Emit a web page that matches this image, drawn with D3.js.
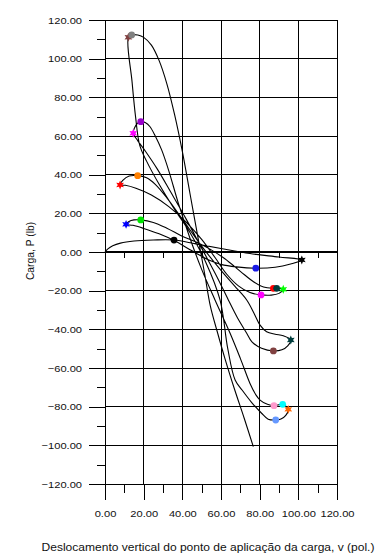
<!DOCTYPE html>
<html>
<head>
<meta charset="utf-8">
<script src="https://cdn.jsdelivr.net/npm/d3@7"></script>
<style>
  html, body { margin: 0; padding: 0; background: #ffffff; }
  svg { display: block; }
  text { font-family: Arial, "Liberation Sans", sans-serif; fill: #111; }
</style>
</head>
<body>
<svg id="chart" width="378" height="557"></svg>
<script>
// Axis ticks
const vTicks = [0, 20, 40, 60, 80, 100, 120];
const vMinorTicks = [10, 30, 50, 70, 90, 110];
const pTicks = [120, 100, 80, 60, 40, 20, 0, -20, -40, -60, -80, -100, -120];
const pMinorTicks = [110, 90, 70, 50, 30, 10, -10, -30, -50, -70, -90, -110];

// Equilibrium path: vertical displacement v (pol.) and load P (lb)
const pathV = [
  0, 1.5, 4, 8, 15, 25, 35.7, 47, 60, 75, 90, 101.8,
  96, 88, 78, 68, 60, 54, 45, 36, 28, 20, 14.5, 10.9,
  12.4, 15, 18.5, 25, 32, 40.5, 48, 54.3, 62, 70, 77, 82, 87.1, 88.8, 92.2,
  90, 86, 80.7, 75, 69, 63, 57, 50, 42, 33, 24, 16, 10.5, 7.8,
  9.2, 12.5, 16.9, 21.5, 26, 32, 40, 50, 60, 67, 73.3, 77, 80.2, 83.6, 88, 92.2, 96.1,
  94.5, 91.5, 87.1, 81, 76, 73.3, 68.5, 63.8, 58, 50, 42, 34, 27, 21, 17, 14.6,
  15.3, 16.8, 18.5, 21, 23.3, 26, 29.3, 33, 38, 44, 50, 56.9, 64.7, 70, 75, 78, 80.2, 84, 87.4, 91.9, 94.8,
  93.5, 91, 88.3, 84.4, 81, 76, 71, 67.3, 63.5, 59.5, 52, 44, 36, 28, 21.5, 18, 15.8, 14, 12.1,
  13.8, 17, 20, 24, 28, 32, 36, 40, 44, 48, 51.5, 54.5, 58, 62, 67, 72, 76.7
];
const pathP = [
  0, 1.6, 3.2, 4.6, 5.7, 6.2, 6.2, 4.2, 1.8, -0.8, -2.6, -4.1,
  -6.2, -7.9, -8.4, -7.7, -6.4, -4.3, 0.6, 5.8, 9.4, 12.2, 13.8, 14.3,
  15.8, 16.6, 16.6, 15.3, 12.3, 7.9, 4.8, 1.5, -3.5, -10, -15.5, -18.1, -18.8, -18.8, -19.3,
  -21.4, -22.3, -22.2, -21, -17.5, -11.5, -3, 6.5, 15.5, 23.5, 29.5, 33, 34.5, 34.7,
  37, 39.3, 39.5, 38.4, 35, 28, 17, 3, -9.5, -17.5, -24.8, -31.5, -37.8, -41.2, -42.5, -43.3, -45.5,
  -48.5, -50.6, -51.2, -49.8, -46.5, -42, -34, -24.8, -13, 2, 17, 31, 43, 52, 57.5, 61.4,
  64.3, 66.6, 67.4, 66.9, 64.8, 60, 52.8, 42, 25, 7, -9, -24.8, -42, -55, -68, -73.8, -76.6, -78.8, -79.5, -78.8, -81.4,
  -84.5, -86.4, -86.9, -86.5, -83.4, -78, -71.5, -66.2, -50, -24.8, -5, 10, 22, 35, 47, 55, 70, 88, 111.1,
  112.3, 112.2, 111, 107, 99, 87, 71, 52, 30, 8, -11, -28, -41, -55, -71, -86, -100.7
];

// Limit points along the path
const markerV = [35.7, 101.8, 78, 10.9, 18.5, 87.1, 88.8, 92.2, 80.7, 7.8, 16.9, 96.1, 87.1, 14.6, 18.5, 87.4, 91.9, 94.8, 88.3, 12.1, 13.8];
const markerP = [6.2, -4.1, -8.4, 14.3, 16.6, -18.8, -18.8, -19.3, -22.2, 34.7, 39.5, -45.5, -51.2, 61.4, 67.4, -79.5, -78.8, -81.4, -86.9, 111.1, 112.3];
const markerKind = ['circle', 'star', 'circle', 'star', 'circle', 'circle', 'circle', 'star', 'circle', 'star', 'circle', 'star', 'circle', 'star', 'circle', 'circle', 'circle', 'star', 'circle', 'star', 'circle'];

// Marker colours, one per limit point
const markerColor = ['#000000', '#000000', '#1a1ae6', '#0000ff', '#00e600', '#ff0000', '#003c3c', '#00ff00', '#ff00ff', '#ff0000', '#ff8000', '#003c3c', '#804040', '#ff00ff', '#9900cc', '#ff99cc', '#00ffff', '#ff6600', '#6699ff', '#804040', '#808080'];

const svg = d3.select('#chart');
const x = d3.scaleLinear().domain([0, 120]).range([105, 337]);
const y = d3.scaleLinear().domain([-120, 120]).range([484, 20]);
const stretch = 1.17;
const fmt = d3.format('.2f');

// Grid
const grid = svg.append('g').attr('stroke', '#000').attr('stroke-width', 1).attr('shape-rendering', 'crispEdges');
grid.selectAll('line.h').data(pTicks).join('line')
  .attr('x1', x(0)).attr('x2', x(120))
  .attr('y1', d => y(d)).attr('y2', d => y(d));
grid.selectAll('line.v').data(vTicks).join('line')
  .attr('y1', y(120)).attr('y2', y(-120))
  .attr('x1', d => x(d)).attr('x2', d => x(d));

// Load axis (left)
const yAxis = svg.append('g').attr('transform', `translate(${x(0)},0)`)
  .call(d3.axisLeft(y).tickValues(pTicks).tickSize(16).tickPadding(7).tickFormat(fmt));
svg.append('g').attr('transform', `translate(${x(0)},0)`)
  .call(d3.axisLeft(y).tickValues(pMinorTicks).tickSize(8).tickFormat(''))
  .call(g => g.select('.domain').remove());

// Displacement axis (bottom)
const xAxis = svg.append('g').attr('transform', `translate(0,${y(-120)})`)
  .call(d3.axisBottom(x).tickValues(vTicks).tickSize(16).tickPadding(10).tickFormat(fmt));
svg.append('g').attr('transform', `translate(0,${y(-120)})`)
  .call(d3.axisBottom(x).tickValues(vMinorTicks).tickSize(9).tickFormat(''))
  .call(g => g.select('.domain').remove());

// Zero-load line with its own minor ticks
svg.append('g').attr('transform', `translate(0,${y(0)})`)
  .call(d3.axisBottom(x).tickValues(vMinorTicks).tickSize(6).tickFormat(''))
  .call(g => g.select('.domain').remove());
svg.append('line')
  .attr('x1', x(0)).attr('x2', x(120)).attr('y1', y(0)).attr('y2', y(0))
  .attr('stroke', '#000').attr('stroke-width', 2);

svg.selectAll('.tick line, .domain').attr('stroke', '#000').attr('shape-rendering', 'crispEdges');
yAxis.select('.domain').attr('d', `M0,${y(120)}V${y(-120) + 16}`);

yAxis.selectAll('.tick text')
  .attr('font-size', 9.5)
  .attr('fill', '#111')
  .attr('x', -23 / stretch)
  .attr('transform', `scale(${stretch},1)`);
xAxis.selectAll('.tick text')
  .attr('font-size', 9.5)
  .attr('fill', '#111')
  .attr('transform', `scale(${stretch},1)`);
xAxis.select('.domain').remove();

// Equilibrium path
const pts = pathV.map((v, i) => [v, pathP[i]]);
const line = d3.line().x(d => x(d[0])).y(d => y(d[1])).curve(d3.curveCatmullRom.alpha(0.5));
svg.append('path').attr('d', line(pts))
  .attr('fill', 'none').attr('stroke', '#000').attr('stroke-width', 1.1);

// Six-pointed star symbol
const star6 = {
  draw(ctx, size) {
    const r = Math.sqrt(size / 2.2);
    const ri = r * 0.5;
    for (let k = 0; k < 12; k++) {
      const a = -Math.PI / 2 + k * Math.PI / 6;
      const rr = k % 2 === 0 ? r : ri;
      const px = rr * Math.cos(a), py = rr * Math.sin(a);
      if (k === 0) ctx.moveTo(px, py); else ctx.lineTo(px, py);
    }
    ctx.closePath();
  }
};

const marks = markerV.map((v, i) => ({ v, p: markerP[i], kind: markerKind[i], color: markerColor[i] }));
svg.append('g').selectAll('path').data(marks).join('path')
  .attr('transform', d => `translate(${x(d.v)},${y(d.p)})`)
  .attr('d', d => d.kind === 'star'
    ? d3.symbol().type(star6).size(44)()
    : d3.symbol().type(d3.symbolCircle).size(36)())
  .attr('fill', d => d.color);

// Axis titles
svg.append('text')
  .attr('transform', `translate(34,251) rotate(-90)`)
  .attr('text-anchor', 'middle')
  .attr('font-size', 10.3)
  .text('Carga, P (lb)');
svg.append('text')
  .attr('transform', `translate(208,551) scale(${stretch},1)`)
  .attr('text-anchor', 'middle')
  .attr('font-size', 10.3)
  .text('Deslocamento vertical do ponto de aplicação da carga, v (pol.)');
</script>
</body>
</html>
